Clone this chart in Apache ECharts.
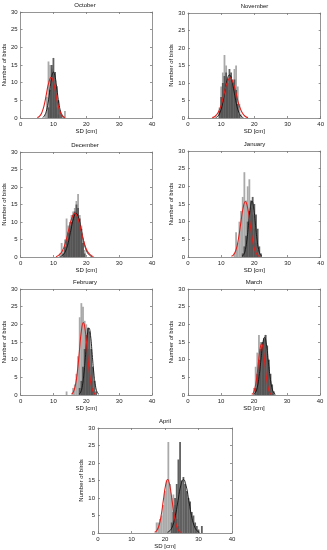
<!DOCTYPE html>
<html><head><meta charset="utf-8">
<script src="https://cdn.jsdelivr.net/npm/echarts@6/dist/echarts.min.js"></script>
<style>html,body{margin:0;padding:0;background:#fff}#c{width:327px;height:550px}</style>
</head><body><div id="c"></div>
<script>
const months = ['October','November','December','January','February','March','April'];
const xTicks = [0, 10, 20, 30, 40];
const yTicks = [0, 5, 10, 15, 20, 25, 30];

// histograms: [bin centre (cm), count]
const octLight = [[7.5,1],[8,6],[8.5,16],[9,15],[9.5,14],[10,12],[10.5,8],[11,3],[11.5,1],[13.5,2]];
const octDark  = [[8.5,3],[9,8],[9.5,15],[10,17],[10.5,13],[11,9],[11.5,5],[12,2],[12.5,1]];
const novLight = [[9.5,3],[10,9],[10.5,13],[11,18],[11.5,15],[12,10],[12.5,8],[13,12],[13.5,11],[14,14],[14.5,15],[15,9],[15.5,4],[16,1]];
const novDark  = [[9.5,2],[10,6],[10.5,10],[11,12],[11.5,13],[12,11],[12.5,14],[13,13],[13.5,10],[14,11],[14.5,8],[15,4],[15.5,1]];
const decLight = [[12,1],[12.5,4],[13,2],[13.5,5],[14,11],[14.5,9],[15,10],[15.5,12],[16,13],[16.5,14],[17,16],[17.5,18],[18,12],[18.5,9],[19,5],[19.5,2]];
const decDark  = [[13,1],[13.5,3],[14,5],[14.5,7],[15,9],[15.5,10],[16,12],[16.5,13],[17,15],[17.5,14],[18,11],[18.5,8],[19,4],[19.5,1]];
const janLight = [[14,1],[14.5,7],[15,4],[15.5,10],[16,13],[16.5,17],[17,24],[17.5,16],[18,20],[18.5,22],[19,14],[19.5,12],[20,8],[20.5,4],[21,2]];
const janDark  = [[16.5,1],[17,3],[17.5,6],[18,10],[18.5,13],[19,16],[19.5,17],[20,15],[20.5,12],[21,8],[21.5,3],[22,1]];
const febLight = [[14,1],[16,2],[16.5,3],[17,6],[17.5,11],[18,22],[18.5,26],[19,25],[19.5,21],[20,20],[20.5,13],[21,8],[21.5,4],[22,2]];
const febDark  = [[18,2],[18.5,4],[19,8],[19.5,13],[20,17],[20.5,19],[21,18],[21.5,13],[22,8],[22.5,4],[23,1]];
const marLight = [[20,2],[20.5,8],[21,12],[21.5,17],[22,15],[22.5,14],[23,16],[23.5,17],[24,12],[24.5,8],[25,4],[25.5,2]];
const marDark  = [[20.5,2],[21,6],[21.5,10],[22,13],[22.5,15],[23,16],[23.5,17],[24,14],[24.5,10],[25,6],[25.5,3],[26,1]];
const aprLight = [[17.5,3],[18,3],[18.5,4],[19,5],[19.5,8],[20,12],[20.5,15],[21,26],[21.5,14],[22,10],[22.5,11],[23,8],[23.5,4],[24,2]];
const aprDark  = [[22,3],[22.5,6],[23,10],[23.5,14],[24,21],[24.5,26],[25,15],[25.5,16],[26,14],[26.5,12],[27,10],[27.5,9],[28,6],[28.5,5],[29,3],[29.5,2],[30,1],[31,2]];

// fitted curves: [cm, value]
const octRed   = [[5.1,0.1],[5.8,0.5],[6.5,1.6],[7.2,3.7],[7.9,7.0],[8.6,10.1],[9.3,11.5],[10.0,10.1],[10.7,7.0],[11.4,3.7],[12.1,1.6],[12.8,0.5],[13.5,0.1]];
const octBlack = [[6.7,0.1],[7.25,0.6],[7.8,1.8],[8.35,4.2],[8.9,7.9],[9.45,11.5],[10,13],[10.55,11.5],[11.1,7.9],[11.65,4.2],[12.2,1.8],[12.75,0.6],[13.3,0.1]];
const novRed   = [[7.3,0.1],[8.2,0.5],[9.1,1.6],[10.0,3.7],[10.9,7.0],[11.8,10.1],[12.7,11.5],[13.6,10.1],[14.5,7.0],[15.4,3.7],[16.3,1.6],[17.2,0.5],[18.1,0.1]];
const novBlack = [[8.3,0.1],[9.0,0.5],[9.7,1.7],[10.4,4.0],[11.1,7.5],[11.8,10.8],[12.5,12.3],[13.2,10.8],[13.9,7.5],[14.6,4.0],[15.3,1.7],[16.0,0.5],[16.7,0.1]];
const decRed   = [[10.8,0.1],[11.75,0.6],[12.7,1.7],[13.65,4.1],[14.6,7.6],[15.55,11.0],[16.5,12.5],[17.45,11.0],[18.4,7.6],[19.35,4.1],[20.3,1.7],[21.25,0.6],[22.2,0.1]];
const decBlack = [[12.1,0.1],[12.9,0.6],[13.7,1.7],[14.5,4.1],[15.3,7.6],[16.1,11.0],[16.9,12.5],[17.7,11.0],[18.5,7.6],[19.3,4.1],[20.1,1.7],[20.9,0.6],[21.7,0.1]];
const janRed   = [[13.1,0.2],[13.8,0.7],[14.5,2.1],[15.2,5.1],[15.9,9.5],[16.6,13.8],[17.3,15.7],[18.0,13.8],[18.7,9.5],[19.4,5.1],[20.1,2.1],[20.8,0.7],[21.5,0.2]];
const janBlack = [[16.3,0.2],[16.8,0.7],[17.3,2.1],[17.8,5.1],[18.3,9.6],[18.8,13.9],[19.3,15.8],[19.8,13.9],[20.3,9.6],[20.8,5.1],[21.3,2.1],[21.8,0.7],[22.3,0.2]];
const febRed   = [[15.5,0.2],[16.1,0.9],[16.7,2.8],[17.3,6.7],[17.9,12.4],[18.5,18.1],[19.1,20.5],[19.7,18.1],[20.3,12.4],[20.9,6.7],[21.5,2.8],[22.1,0.9],[22.7,0.2]];
const febBlack = [[17.8,0.2],[18.3,0.8],[18.8,2.6],[19.3,6.2],[19.8,11.5],[20.3,16.8],[20.8,19.0],[21.3,16.8],[21.8,11.5],[22.3,6.2],[22.8,2.6],[23.3,0.8],[23.8,0.2]];
const marRed   = [[19.3,0.2],[19.8,0.6],[20.3,2.0],[20.8,4.7],[21.3,8.8],[21.8,12.8],[22.3,14.5],[22.8,12.8],[23.3,8.8],[23.8,4.7],[24.3,2.0],[24.8,0.6],[25.3,0.2]];
const marBlack = [[19.9,0.2],[20.45,0.7],[21.0,2.2],[21.55,5.3],[22.1,9.9],[22.65,14.4],[23.2,16.3],[23.75,14.4],[24.3,9.9],[24.85,5.3],[25.4,2.2],[25.95,0.7],[26.5,0.2]];
const aprRed   = [[16.9,0.2],[17.55,0.7],[18.2,2.1],[18.85,5.0],[19.5,9.3],[20.15,13.5],[20.8,15.3],[21.45,13.5],[22.1,9.3],[22.75,5.0],[23.4,2.1],[24.05,0.7],[24.7,0.2]];
const aprBlack = [[20.7,0.2],[21.5,0.7],[22.3,2.1],[23.1,5.0],[23.9,9.3],[24.7,13.5],[25.5,15.3],[26.3,13.5],[27.1,9.3],[27.9,5.0],[28.7,2.1],[29.5,0.7],[30.3,0.2]];

const lights = [octLight, novLight, decLight, janLight, febLight, marLight, aprLight];
const darks  = [octDark, novDark, decDark, janDark, febDark, marDark, aprDark];
const reds   = [octRed, novRed, decRed, janRed, febRed, marRed, aprRed];
const blacks = [octBlack, novBlack, decBlack, janBlack, febBlack, marBlack, aprBlack];

// layout: [left, top, width, height]
const boxes = [
  [18, 12, 134, 106], [188, 13, 133, 105],
  [18, 152, 134, 105], [188, 151, 133, 106],
  [18, 289, 134, 106], [188, 289, 132, 106],
  [98, 428, 134, 105]
];

const FONT = 'Liberation Sans, Arial, sans-serif';
const AX = '#7a7a7a';
const grids = [], xAxes = [], yAxes = [], series = [], titles = [];
boxes.forEach((b, i) => {
  const [l, t, w, h] = b;
  grids.push({left: l, top: t, width: w, height: h, show: false});
  titles.push({text: months[i], left: l + w / 2, top: t - 10, padding: 0, textAlign: 'center',
    textStyle: {fontSize: 6, fontWeight: 'normal', color: '#111', fontFamily: FONT}});
  const xmin = xTicks[0], xmax = xTicks[xTicks.length - 1];
  const ymin = yTicks[0], ymax = yTicks[yTicks.length - 1];
  const baseX = {type: 'value', gridIndex: i, min: xmin, max: xmax, interval: xTicks[1] - xTicks[0],
    axisLine: {show: true, onZero: false, lineStyle: {color: AX, width: 0.8}},
    axisTick: {show: true, inside: true, length: 2, lineStyle: {color: AX, width: 0.8}},
    splitLine: {show: false}};
  xAxes.push(Object.assign({}, baseX, {position: 'bottom',
    axisLabel: {fontSize: 6, color: '#222', margin: 3, fontFamily: FONT},
    name: 'SD [cm]', nameLocation: 'middle', nameGap: 9,
    nameTextStyle: {fontSize: 6, color: '#111', fontFamily: FONT}}));
  xAxes.push(Object.assign({}, baseX, {position: 'top', axisLabel: {show: false}}));
  const baseY = {type: 'value', gridIndex: i, min: ymin, max: ymax, interval: yTicks[1] - yTicks[0],
    axisLine: {show: true, onZero: false, lineStyle: {color: AX, width: 0.8}},
    axisTick: {show: true, inside: true, length: 2, lineStyle: {color: AX, width: 0.8}},
    splitLine: {show: false}};
  yAxes.push(Object.assign({}, baseY, {position: 'left',
    axisLabel: {fontSize: 6, color: '#222', margin: 3, fontFamily: FONT},
    name: 'Number of birds', nameLocation: 'middle', nameGap: 9, nameRotate: 90,
    nameTextStyle: {fontSize: 6, color: '#111', fontFamily: FONT}}));
  yAxes.push(Object.assign({}, baseY, {position: 'right', axisLabel: {show: false}}));
  const xi = 2 * i, yi = 2 * i;
  series.push({type: 'bar', xAxisIndex: xi, yAxisIndex: yi, data: lights[i], barWidth: 1.8,
    itemStyle: {color: '#a9a9a9'}, silent: true});
  series.push({type: 'bar', xAxisIndex: xi, yAxisIndex: yi, data: darks[i], barWidth: 1.8, barGap: '-100%',
    itemStyle: {color: '#4a4a4a', opacity: 0.88}, silent: true});
  series.push({type: 'line', xAxisIndex: xi, yAxisIndex: yi, data: reds[i], smooth: true, showSymbol: false,
    lineStyle: {color: '#e0201c', width: 1.1}, silent: true, z: 5});
  series.push({type: 'line', xAxisIndex: xi, yAxisIndex: yi, data: blacks[i], smooth: true, showSymbol: false,
    lineStyle: {color: '#111', width: 0.9}, silent: true, z: 4});
});

const chart = echarts.init(document.getElementById('c'), null, {renderer: 'canvas'});
chart.setOption({animation: false, backgroundColor: '#fff', title: titles, grid: grids,
  xAxis: xAxes, yAxis: yAxes, series: series});
</script></body></html>
